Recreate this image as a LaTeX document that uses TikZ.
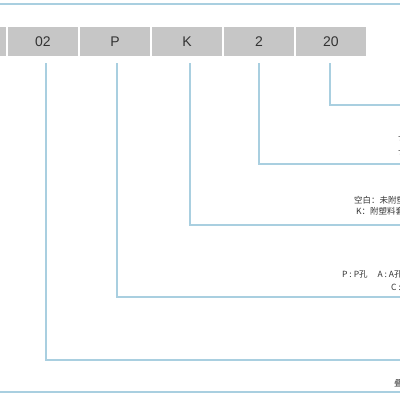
\documentclass[tikz,border=0pt]{standalone}
\usepackage{fontspec}
\setmainfont{Liberation Sans}
\newfontfamily\cjk{Noto Sans CJK SC}
\usepackage{xcolor}
\usetikzlibrary{positioning}
\definecolor{lineblue}{HTML}{A9CFE0}
\definecolor{boxgray}{HTML}{C6C6C6}
\definecolor{textgray}{HTML}{333333}

\begin{document}
\begin{tikzpicture}[x=1pt,y=-1pt,
        codebox/.style={rectangle,fill=boxgray,minimum width=70pt,minimum height=29pt,inner sep=0pt,text=textgray,font=\fontsize{14}{14}\selectfont},
        lead/.style={draw=lineblue,line width=1.2pt},
        note/.style={anchor=west,inner sep=0pt,text=textgray,font=\fontsize{8.5}{9}\selectfont\cjk}]
        \useasboundingbox (0,0) rectangle (400,400);
        \clip (0,0) rectangle (400,400);

        \draw[lead] (0,4) -- (400,4);
        \draw[lead] (0,392) -- (400,392);

        \node [codebox] (b00) at (-29, 41.5) {};
        \node [codebox] (b02) at (43, 41.5) {02};
        \node [codebox] (bP) at (115, 41.5) {P};
        \node [codebox] (bK) at (187, 41.5) {K};
        \node [codebox] (b2) at (259, 41.5) {2};
        \node [codebox] (b20) at (331, 41.5) {20};

        \coordinate (e20) at (400, 105);
        \coordinate (e2) at (400, 164);
        \coordinate (eK) at (400, 225);
        \coordinate (eP) at (400, 297);
        \coordinate (e02) at (400, 360);

        \node [note] (t20a) at (398, 137) {长度};
        \node [note] (t20b) at (398, 151) {长度};
        \node [note] (tKa) at (354, 200) {空白：未附塑料套};
        \node [note] (tKb) at (356, 211) {K：附塑料套};
        \node [note] (tPa) at (342, 274) {P : P孔\hspace{10pt}A : A孔};
        \node [note] (tPb) at (391, 287) {C : C孔};
        \node [note] (t02) at (394, 383) {叠层};

        \draw[lead] ([xshift=3pt,yshift=-7pt]b02.south) |- (e02);
        \draw[lead] ([xshift=2pt,yshift=-7pt]bP.south) |- (eP);
        \draw[lead] ([xshift=3pt,yshift=-7pt]bK.south) |- (eK);
        \draw[lead] ([yshift=-7pt]b2.south) |- (e2);
        \draw[lead] ([xshift=-1pt,yshift=-7pt]b20.south) |- (e20);
        \end{tikzpicture}
\end{document}
